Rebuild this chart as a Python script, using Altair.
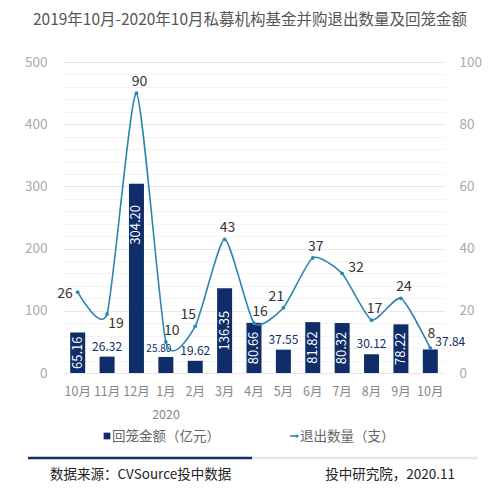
import json
import altair as alt
import pandas as pd

# ---------------- data ----------------
months = ["10月", "11月", "12月", "1月", "2月", "3月", "4月", "5月", "6月", "7月", "8月", "9月", "10月"]
amount = [65.16, 26.32, 304.20, 25.80, 19.62, 136.35, 80.66, 37.55, 81.82, 80.32, 30.12, 78.22, 37.84]
amount_text = ["65.16", "26.32", "304.20", "25.80", "19.62", "136.35", "80.66", "37.55",
               "81.82", "80.32", "30.12", "78.22", "37.84"]
count = [26, 19, 90, 10, 15, 43, 16, 21, 37, 32, 17, 24, 8]
# label placement categories
amount_place = ["inside", "top", "inside", "top-small", "top", "inside", "inside", "top",
                "inside", "inside", "top", "inside", "right"]
count_place = ["left", "below", "above", "above-right", "above-left", "above", "above-right",
               "above-left", "above", "right", "above", "above", "above-tight"]

left_ticks = [0, 100, 200, 300, 400, 500]
right_ticks = [0, 20, 40, 60, 80, 100]

title_text = "2019年10月-2020年10月私募机构基金并购退出数量及回笼金额"
year_text = "2020"
legend_bar = "回笼金额（亿元）"
legend_line = "退出数量（支）"
source_text = "数据来源：CVSource投中数据"
credit_text = "投中研究院，2020.11"

NAVY = "#0f2d69"
TEAL = "#2a86b0"
FONT = "Noto Sans CJK SC"

df = pd.DataFrame({
    "idx": list(range(len(months))),
    "amount": amount,
    "amount_text": amount_text,
    "count": count,
    "aplace": amount_place,
    "cplace": count_place,
})

W, H = 382, 311

x_enc = alt.X(
    "idx:O",
    scale=alt.Scale(paddingInner=0, paddingOuter=0),
    axis=alt.Axis(
        title=None,
        labelExpr=json.dumps(months, ensure_ascii=False) + "[datum.value]",
        labelAngle=0, labelColor="#888", labelFontSize=12.5, labelFont=FONT,
        labelPadding=12, ticks=False, domain=False, grid=False,
    ),
)

left_axis = alt.Axis(
    title=None,
    values=list(range(0, 501, 20)),
    labelExpr="datum.value % 100 == 0 ? datum.label : ''",
    labelColor="#aaa", labelFontSize=13.5, labelFont=FONT, labelPadding=16,
    ticks=False, domain=False,
    gridColor={"condition": {"test": "datum.value % 100 == 0", "value": "#e8e8e8"}, "value": "#f4f4f4"},
    gridWidth=1,
)
right_axis = alt.Axis(
    title=None, orient="right", values=right_ticks,
    labelColor="#aaa", labelFontSize=13.5, labelFont=FONT, labelPadding=14,
    ticks=False, domain=False, grid=False,
)
yl_scale = alt.Scale(domain=[0, 500], nice=False)
yr_scale = alt.Scale(domain=[0, 100], nice=False)

base = alt.Chart(df)

bars = base.mark_bar(size=15, color=NAVY).encode(
    x=x_enc, y=alt.Y("amount:Q", scale=yl_scale, axis=left_axis)
)

inside_labels = base.transform_filter("datum.aplace == 'inside'").transform_calculate(
    ly="datum.amount > 200 ? datum.amount - 66 : datum.amount / 2"
).mark_text(angle=270, color="white", fontSize=13, font=FONT, baseline="middle", align="center").encode(
    x=x_enc, y=alt.Y("ly:Q", scale=yl_scale, axis=left_axis), text="amount_text:N"
)

top_styles = {
    "top": dict(dx=0, dy=-3, align="center", fontSize=12),
    "top-small": dict(dx=-7, dy=-3, align="center", fontSize=10),
    "right": dict(dx=5, dy=0, align="left", fontSize=12),
}
top_layers = []
for k, st in top_styles.items():
    top_layers.append(
        base.transform_filter(f"datum.aplace == '{k}'").mark_text(
            color=NAVY, font=FONT, baseline="bottom", **st
        ).encode(x=x_enc, y=alt.Y("amount:Q", scale=yl_scale, axis=left_axis), text="amount_text:N")
    )

left_group = alt.layer(bars, inside_labels, *top_layers)

line = base.mark_line(color=TEAL, strokeWidth=1.6, interpolate="cardinal", tension=0.4).encode(
    x=x_enc, y=alt.Y("count:Q", scale=yr_scale, axis=right_axis)
)
pts = base.mark_circle(color=TEAL, size=14, opacity=1).encode(
    x=x_enc, y=alt.Y("count:Q", scale=yr_scale, axis=right_axis)
)
count_styles = {
    "left": dict(dx=-5, dy=2, align="right"),
    "below": dict(dx=9, dy=10, align="center"),
    "above": dict(dx=3, dy=-11, align="center"),
    "above-right": dict(dx=6, dy=-11, align="center"),
    "above-left": dict(dx=-7, dy=-11, align="center"),
    "above-tight": dict(dx=1, dy=-14, align="center"),
    "right": dict(dx=6, dy=-5, align="left"),
}
count_layers = []
for k, st in count_styles.items():
    count_layers.append(
        base.transform_filter(f"datum.cplace == '{k}'").mark_text(
            color="#333", fontSize=14, font=FONT, baseline="middle", **st
        ).encode(x=x_enc, y=alt.Y("count:Q", scale=yr_scale, axis=right_axis), text="count:Q")
    )

right_group = alt.layer(line, pts, *count_layers)

one = pd.DataFrame({"k": [0]})


def deco_text(txt, x, y, size, color, align="left"):
    return alt.Chart(one).mark_text(
        text=txt, fontSize=size, color=color, font=FONT, align=align, baseline="middle"
    ).encode(x=alt.value(x), y=alt.value(y))


decos = [
    deco_text(year_text, 103, 353, 12.5, "#888", align="center"),
    alt.Chart(one).mark_square(color=NAVY, size=45, opacity=1).encode(x=alt.value(44), y=alt.value(374)),
    deco_text(legend_bar, 49, 375, 13.5, "#666"),
    alt.Chart(one).mark_rule(color=TEAL, strokeWidth=1.5).encode(x=alt.value(227), x2=alt.value(235), y=alt.value(374)),
    alt.Chart(one).mark_circle(color=TEAL, size=10, opacity=1).encode(x=alt.value(234), y=alt.value(374)),
    deco_text(legend_line, 237, 375, 13.5, "#666"),
    alt.Chart(one).mark_rule(color="#e6e6e6", strokeWidth=2.5).encode(x=alt.value(189), x2=alt.value(415), y=alt.value(396)),
    alt.Chart(one).mark_rule(color=NAVY, strokeWidth=2.5).encode(x=alt.value(-35), x2=alt.value(189), y=alt.value(396)),
    deco_text(source_text, -13, 413, 13.5, "#222"),
    deco_text(credit_text, 392, 413, 13.5, "#222", align="right"),
]

chart = alt.layer(left_group, right_group, *decos).resolve_scale(y="independent").properties(
    width=W, height=H,
    title=alt.TitleParams(title_text, anchor="middle", fontSize=15.5, font=FONT, color="#555",
                          fontWeight="normal", offset=27, dx=-4),
    autosize=alt.AutoSizeParams(type="none"),
    padding={"left": 55, "top": 54, "right": 47, "bottom": 114},
    background="white",
).configure_view(stroke=None)

chart.save("out.html", embed_options={"renderer": "svg", "actions": False})
